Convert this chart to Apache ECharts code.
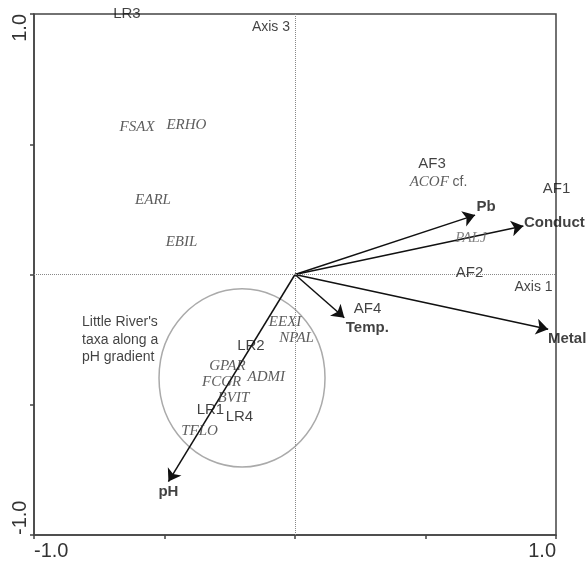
<!DOCTYPE html>
<html><head><meta charset="utf-8">
<script src="https://cdn.jsdelivr.net/npm/echarts@6/dist/echarts.min.js"></script>
<style>html,body{margin:0;padding:0;background:#fff}#c{width:586px;height:562px}</style>
</head><body><div id="c"></div>
<script>
// Environmental vectors (arrow tips)
const envNames = ['Pb', 'Conduct', 'Temp.', 'Metal', 'pH'];
const envX = [0.690, 0.875, 0.189, 0.970, -0.485];
const envY = [0.228, 0.186, -0.166, -0.210, -0.795];
// Sites
const siteNames = ['LR1', 'LR2', 'LR3', 'LR4', 'AF1', 'AF2', 'AF3', 'AF4'];
const siteX = [-0.324, -0.169, -0.644, -0.213, 1.002, 0.669, 0.525, 0.278];
const siteY = [-0.520, -0.274, 1.000, -0.546, 0.328, 0.008, 0.424, -0.132];
// Taxa
const taxaNames = ['FSAX', 'ERHO', 'EARL', 'EBIL', 'EEXI', 'NPAL', 'GPAR', 'FCGR', 'ADMI', 'BVIT', 'TFLO', 'ACOF', 'PALJ'];
const taxaX = [-0.605, -0.416, -0.544, -0.435, -0.038, 0.006, -0.259, -0.281, -0.110, -0.236, -0.366, 0.550, 0.674];
const taxaY = [0.566, 0.574, 0.286, 0.125, -0.181, -0.244, -0.350, -0.414, -0.395, -0.473, -0.600, 0.355, 0.140];
// Axis name labels
const axisNames = ['Axis 1', 'Axis 3'];
const axisNameX = [0.914, -0.092];
const axisNameY = [-0.048, 0.950];
// Group circle (centre and radii in axis units)
const circleCenter = [-0.203, -0.397];
const circleRadius = [0.318, 0.342];
// Annotation
const noteText = "Little River's\ntaxa along a\npH gradient";
const notePos = [-0.816, -0.251];
// Tick labels
const tickMin = -1, tickMax = 1, tickStep = 0.5;
const tickLabels = {'-1': '-1.0', '1': '1.0'};

const envOffsets = {'Pb': [11, -8], 'Conduct': [31, -3], 'Temp.': [23, 10], 'Metal': [19, 10], 'pH': [0, 10]};
const sans = 'Liberation Sans, Arial, sans-serif';
const serif = 'Liberation Serif, Times New Roman, serif';

const chart = echarts.init(document.getElementById('c'), null, {renderer: 'canvas'});

const axisCommon = {
  type: 'value', min: tickMin, max: tickMax, interval: tickStep,
  axisLine: {show: true, onZero: false, lineStyle: {color: '#444', width: 1.5}},
  axisTick: {show: true, inside: false, length: 4, lineStyle: {color: '#444', width: 1.5}},
  splitLine: {show: false},
  axisLabel: {
    showMinLabel: true, showMaxLabel: true,
    formatter: v => tickLabels[String(v)] || '',
    fontFamily: sans, fontSize: 20, color: '#333'
  }
};

const xAxis = JSON.parse(JSON.stringify(axisCommon));
xAxis.axisLabel.formatter = axisCommon.axisLabel.formatter;
xAxis.axisLabel.margin = 6;
xAxis.axisLabel.alignMinLabel = 'left';
xAxis.axisLabel.alignMaxLabel = 'right';
const yAxis = JSON.parse(JSON.stringify(axisCommon));
yAxis.axisLabel.formatter = axisCommon.axisLabel.formatter;
yAxis.axisLabel.rotate = 90;
yAxis.axisLabel.margin = 4;
yAxis.axisLabel.alignMinLabel = 'left';
yAxis.axisLabel.alignMaxLabel = 'right';

const option = {
  animation: false,
  backgroundColor: '#fff',
  grid: {left: 34, right: 30, top: 14, bottom: 27, show: true, borderColor: '#444', borderWidth: 1.5, containLabel: false},
  xAxis: xAxis,
  yAxis: yAxis,
  series: [
    {
      type: 'custom',
      silent: true,
      renderItem: (params, api) => {
        const c = api.coord(circleCenter);
        const s = api.size([circleRadius[0], circleRadius[1]]);
        return {type: 'ellipse', shape: {cx: c[0], cy: c[1], rx: s[0], ry: s[1]},
          style: {fill: 'none', stroke: '#aaa', lineWidth: 1.5}};
      },
      data: [[circleCenter[0], circleCenter[1]]],
      clip: false,
      markLine: {
        silent: true, symbol: 'none', label: {show: false},
        lineStyle: {type: 'dotted', color: '#888', width: 1},
        data: [{xAxis: 0}, {yAxis: 0}]
      }
    },
    {
      type: 'lines',
      coordinateSystem: 'cartesian2d',
      silent: true,
      symbol: ['none', 'arrow'],
      symbolSize: [9, 12],
      lineStyle: {color: '#111', width: 1.5, opacity: 1},
      data: envNames.map((n, i) => ({coords: [[0, 0], [envX[i], envY[i]]]}))
    },
    {
      type: 'scatter', silent: true, clip: false, symbolSize: 0,
      data: envNames.map((n, i) => ({name: n, value: [envX[i], envY[i]],
        label: {offset: envOffsets[n]}})),
      label: {show: true, position: 'inside', formatter: p => p.name,
        fontFamily: sans, fontWeight: 'bold', fontSize: 15, color: '#111'}
    },
    {
      type: 'scatter', silent: true, clip: false, symbolSize: 0,
      data: siteNames.map((n, i) => ({name: n, value: [siteX[i], siteY[i]]})),
      label: {show: true, position: 'inside', formatter: p => p.name,
        fontFamily: sans, fontSize: 15, color: '#111'}
    },
    {
      type: 'scatter', silent: true, clip: false, symbolSize: 0,
      data: taxaNames.map((n, i) => ({name: n, value: [taxaX[i], taxaY[i]],
        label: n === 'PALJ' ? {color: '#666'} : {}})),
      label: {show: true, position: 'inside',
        formatter: p => p.name === 'ACOF' ? '{i|ACOF} {n|cf.}' : p.name,
        fontFamily: serif, fontStyle: 'italic', fontSize: 15, color: '#333',
        rich: {
          i: {fontFamily: serif, fontStyle: 'italic', fontSize: 15, color: '#333'},
          n: {fontFamily: sans, fontStyle: 'normal', fontSize: 14, color: '#333'}
        }
      }
    },
    {
      type: 'scatter', silent: true, clip: false, symbolSize: 0,
      data: axisNames.map((n, i) => ({name: n, value: [axisNameX[i], axisNameY[i]]})),
      label: {show: true, position: 'inside', formatter: p => p.name,
        fontFamily: sans, fontSize: 14, color: '#111'}
    },
    {
      type: 'scatter', silent: true, clip: false, symbolSize: 0,
      data: [{name: noteText, value: notePos}],
      label: {show: true, position: 'inside', formatter: p => p.name, align: 'left',
        lineHeight: 17.5, fontFamily: sans, fontSize: 14, color: '#111'}
    }
  ]
};
chart.setOption(option);
</script></body></html>
